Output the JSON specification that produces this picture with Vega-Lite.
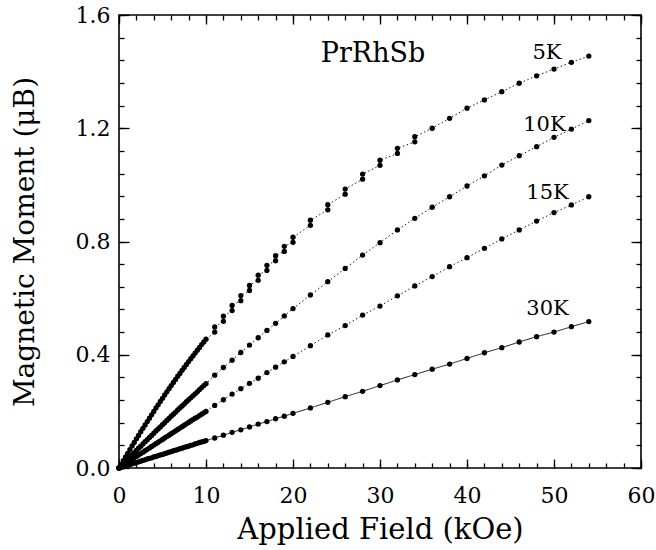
{
"$schema":"https://vega.github.io/schema/vega-lite/v6.json",
"width":522,"height":453,
"autosize":{"type":"none"},
"padding":{"left":119,"top":15,"right":15,"bottom":82},
"background":"white",
"config":{"view":{"stroke":"black","strokeWidth":1.6},"font":"DejaVu Serif",
 "axis":{"grid":false,"domain":false,"tickColor":"black","tickWidth":1.3,"labelColor":"black","labelFont":"DejaVu Serif","labelFontSize":22,"labelFlush":false,"labelOverlap":false,"titleColor":"black","titleFont":"DejaVu Serif","titleFontWeight":"normal"}},
"resolve":{"axis":{"x":"independent","y":"independent"}},
"datasets":{
"mag":[
{"T":"5K","H":0,"M":0},{"T":"5K","H":0.25,"M":0.013},{"T":"5K","H":0.5,"M":0.026},{"T":"5K","H":0.75,"M":0.039},{"T":"5K","H":1,"M":0.052},{"T":"5K","H":1.25,"M":0.065},{"T":"5K","H":1.5,"M":0.078},{"T":"5K","H":1.75,"M":0.09},{"T":"5K","H":2,"M":0.103},{"T":"5K","H":2.25,"M":0.115},{"T":"5K","H":2.5,"M":0.128},{"T":"5K","H":2.75,"M":0.14},{"T":"5K","H":3,"M":0.152},{"T":"5K","H":3.25,"M":0.164},{"T":"5K","H":3.5,"M":0.176},{"T":"5K","H":3.75,"M":0.188},{"T":"5K","H":4,"M":0.2},{"T":"5K","H":4.25,"M":0.212},{"T":"5K","H":4.5,"M":0.223},{"T":"5K","H":4.75,"M":0.235},{"T":"5K","H":5,"M":0.246},{"T":"5K","H":5.25,"M":0.258},{"T":"5K","H":5.5,"M":0.269},{"T":"5K","H":5.75,"M":0.28},{"T":"5K","H":6,"M":0.291},{"T":"5K","H":6.25,"M":0.302},{"T":"5K","H":6.5,"M":0.313},{"T":"5K","H":6.75,"M":0.324},{"T":"5K","H":7,"M":0.334},{"T":"5K","H":7.25,"M":0.345},{"T":"5K","H":7.5,"M":0.355},{"T":"5K","H":7.75,"M":0.366},{"T":"5K","H":8,"M":0.376},{"T":"5K","H":8.25,"M":0.386},{"T":"5K","H":8.5,"M":0.396},{"T":"5K","H":8.75,"M":0.406},{"T":"5K","H":9,"M":0.416},{"T":"5K","H":9.25,"M":0.426},{"T":"5K","H":9.5,"M":0.436},{"T":"5K","H":9.75,"M":0.445},{"T":"5K","H":10,"M":0.455},
{"T":"5K","H":11,"M":0.48},{"T":"5K","H":11,"M":0.498},{"T":"5K","H":12,"M":0.518},{"T":"5K","H":12,"M":0.536},{"T":"5K","H":13,"M":0.556},{"T":"5K","H":13,"M":0.574},{"T":"5K","H":14,"M":0.591},{"T":"5K","H":14,"M":0.609},{"T":"5K","H":15,"M":0.627},{"T":"5K","H":15,"M":0.645},{"T":"5K","H":16,"M":0.663},{"T":"5K","H":16,"M":0.681},{"T":"5K","H":17,"M":0.698},{"T":"5K","H":17,"M":0.716},{"T":"5K","H":18,"M":0.732},{"T":"5K","H":18,"M":0.75},{"T":"5K","H":19,"M":0.765},{"T":"5K","H":19,"M":0.783},{"T":"5K","H":20,"M":0.797},{"T":"5K","H":20,"M":0.815},{"T":"5K","H":22,"M":0.857},{"T":"5K","H":22,"M":0.875},{"T":"5K","H":24,"M":0.912},{"T":"5K","H":24,"M":0.93},{"T":"5K","H":26,"M":0.967},{"T":"5K","H":26,"M":0.985},{"T":"5K","H":28,"M":1.02},{"T":"5K","H":28,"M":1.038},{"T":"5K","H":30,"M":1.069},{"T":"5K","H":30,"M":1.087},{"T":"5K","H":32,"M":1.111},{"T":"5K","H":32,"M":1.129},{"T":"5K","H":34,"M":1.152},{"T":"5K","H":34,"M":1.17},{"T":"5K","H":36,"M":1.2},{"T":"5K","H":38,"M":1.235},{"T":"5K","H":40,"M":1.271},{"T":"5K","H":42,"M":1.3},{"T":"5K","H":44,"M":1.329},{"T":"5K","H":46,"M":1.359},{"T":"5K","H":48,"M":1.385},{"T":"5K","H":50,"M":1.409},{"T":"5K","H":52,"M":1.433},{"T":"5K","H":54,"M":1.455},
{"T":"10K","H":0,"M":0},{"T":"10K","H":0.25,"M":0.008},{"T":"10K","H":0.5,"M":0.016},{"T":"10K","H":0.75,"M":0.023},{"T":"10K","H":1,"M":0.031},{"T":"10K","H":1.25,"M":0.039},{"T":"10K","H":1.5,"M":0.047},{"T":"10K","H":1.75,"M":0.054},{"T":"10K","H":2,"M":0.062},{"T":"10K","H":2.25,"M":0.07},{"T":"10K","H":2.5,"M":0.077},{"T":"10K","H":2.75,"M":0.085},{"T":"10K","H":3,"M":0.093},{"T":"10K","H":3.25,"M":0.1},{"T":"10K","H":3.5,"M":0.108},{"T":"10K","H":3.75,"M":0.115},{"T":"10K","H":4,"M":0.123},{"T":"10K","H":4.25,"M":0.131},{"T":"10K","H":4.5,"M":0.138},{"T":"10K","H":4.75,"M":0.145},{"T":"10K","H":5,"M":0.153},{"T":"10K","H":5.25,"M":0.16},{"T":"10K","H":5.5,"M":0.168},{"T":"10K","H":5.75,"M":0.175},{"T":"10K","H":6,"M":0.183},{"T":"10K","H":6.25,"M":0.19},{"T":"10K","H":6.5,"M":0.197},{"T":"10K","H":6.75,"M":0.205},{"T":"10K","H":7,"M":0.212},{"T":"10K","H":7.25,"M":0.219},{"T":"10K","H":7.5,"M":0.226},{"T":"10K","H":7.75,"M":0.234},{"T":"10K","H":8,"M":0.241},{"T":"10K","H":8.25,"M":0.248},{"T":"10K","H":8.5,"M":0.255},{"T":"10K","H":8.75,"M":0.262},{"T":"10K","H":9,"M":0.269},{"T":"10K","H":9.25,"M":0.277},{"T":"10K","H":9.5,"M":0.284},{"T":"10K","H":9.75,"M":0.291},{"T":"10K","H":10,"M":0.298},
{"T":"10K","H":11,"M":0.328},{"T":"10K","H":12,"M":0.355},{"T":"10K","H":13,"M":0.381},{"T":"10K","H":14,"M":0.408},{"T":"10K","H":15,"M":0.434},{"T":"10K","H":16,"M":0.46},{"T":"10K","H":17,"M":0.486},{"T":"10K","H":18,"M":0.511},{"T":"10K","H":19,"M":0.537},{"T":"10K","H":20,"M":0.563},{"T":"10K","H":22,"M":0.611},{"T":"10K","H":24,"M":0.658},{"T":"10K","H":26,"M":0.705},{"T":"10K","H":28,"M":0.752},{"T":"10K","H":30,"M":0.796},{"T":"10K","H":32,"M":0.841},{"T":"10K","H":34,"M":0.882},{"T":"10K","H":36,"M":0.921},{"T":"10K","H":38,"M":0.958},{"T":"10K","H":40,"M":0.996},{"T":"10K","H":42,"M":1.032},{"T":"10K","H":44,"M":1.07},{"T":"10K","H":46,"M":1.103},{"T":"10K","H":48,"M":1.135},{"T":"10K","H":50,"M":1.168},{"T":"10K","H":52,"M":1.197},{"T":"10K","H":54,"M":1.227},
{"T":"15K","H":0,"M":0},{"T":"15K","H":0.25,"M":0.005},{"T":"15K","H":0.5,"M":0.01},{"T":"15K","H":0.75,"M":0.015},{"T":"15K","H":1,"M":0.02},{"T":"15K","H":1.25,"M":0.026},{"T":"15K","H":1.5,"M":0.031},{"T":"15K","H":1.75,"M":0.036},{"T":"15K","H":2,"M":0.041},{"T":"15K","H":2.25,"M":0.046},{"T":"15K","H":2.5,"M":0.051},{"T":"15K","H":2.75,"M":0.056},{"T":"15K","H":3,"M":0.061},{"T":"15K","H":3.25,"M":0.066},{"T":"15K","H":3.5,"M":0.071},{"T":"15K","H":3.75,"M":0.076},{"T":"15K","H":4,"M":0.081},{"T":"15K","H":4.25,"M":0.086},{"T":"15K","H":4.5,"M":0.091},{"T":"15K","H":4.75,"M":0.096},{"T":"15K","H":5,"M":0.101},{"T":"15K","H":5.25,"M":0.106},{"T":"15K","H":5.5,"M":0.111},{"T":"15K","H":5.75,"M":0.116},{"T":"15K","H":6,"M":0.121},{"T":"15K","H":6.25,"M":0.126},{"T":"15K","H":6.5,"M":0.131},{"T":"15K","H":6.75,"M":0.136},{"T":"15K","H":7,"M":0.141},{"T":"15K","H":7.25,"M":0.146},{"T":"15K","H":7.5,"M":0.151},{"T":"15K","H":7.75,"M":0.156},{"T":"15K","H":8,"M":0.161},{"T":"15K","H":8.25,"M":0.166},{"T":"15K","H":8.5,"M":0.171},{"T":"15K","H":8.75,"M":0.176},{"T":"15K","H":9,"M":0.18},{"T":"15K","H":9.25,"M":0.185},{"T":"15K","H":9.5,"M":0.19},{"T":"15K","H":9.75,"M":0.195},{"T":"15K","H":10,"M":0.2},
{"T":"15K","H":11,"M":0.221},{"T":"15K","H":12,"M":0.241},{"T":"15K","H":13,"M":0.261},{"T":"15K","H":14,"M":0.28},{"T":"15K","H":15,"M":0.299},{"T":"15K","H":16,"M":0.317},{"T":"15K","H":17,"M":0.337},{"T":"15K","H":18,"M":0.356},{"T":"15K","H":19,"M":0.375},{"T":"15K","H":20,"M":0.394},{"T":"15K","H":22,"M":0.432},{"T":"15K","H":24,"M":0.47},{"T":"15K","H":26,"M":0.503},{"T":"15K","H":28,"M":0.54},{"T":"15K","H":30,"M":0.572},{"T":"15K","H":32,"M":0.608},{"T":"15K","H":34,"M":0.643},{"T":"15K","H":36,"M":0.676},{"T":"15K","H":38,"M":0.711},{"T":"15K","H":40,"M":0.743},{"T":"15K","H":42,"M":0.776},{"T":"15K","H":44,"M":0.809},{"T":"15K","H":46,"M":0.841},{"T":"15K","H":48,"M":0.872},{"T":"15K","H":50,"M":0.902},{"T":"15K","H":52,"M":0.929},{"T":"15K","H":54,"M":0.958},
{"T":"30K","H":0,"M":0},{"T":"30K","H":0.25,"M":0.002},{"T":"30K","H":0.5,"M":0.005},{"T":"30K","H":0.75,"M":0.007},{"T":"30K","H":1,"M":0.01},{"T":"30K","H":1.25,"M":0.012},{"T":"30K","H":1.5,"M":0.015},{"T":"30K","H":1.75,"M":0.017},{"T":"30K","H":2,"M":0.019},{"T":"30K","H":2.25,"M":0.022},{"T":"30K","H":2.5,"M":0.024},{"T":"30K","H":2.75,"M":0.027},{"T":"30K","H":3,"M":0.029},{"T":"30K","H":3.25,"M":0.032},{"T":"30K","H":3.5,"M":0.034},{"T":"30K","H":3.75,"M":0.036},{"T":"30K","H":4,"M":0.039},{"T":"30K","H":4.25,"M":0.041},{"T":"30K","H":4.5,"M":0.044},{"T":"30K","H":4.75,"M":0.046},{"T":"30K","H":5,"M":0.048},{"T":"30K","H":5.25,"M":0.051},{"T":"30K","H":5.5,"M":0.053},{"T":"30K","H":5.75,"M":0.056},{"T":"30K","H":6,"M":0.058},{"T":"30K","H":6.25,"M":0.061},{"T":"30K","H":6.5,"M":0.063},{"T":"30K","H":6.75,"M":0.065},{"T":"30K","H":7,"M":0.068},{"T":"30K","H":7.25,"M":0.07},{"T":"30K","H":7.5,"M":0.073},{"T":"30K","H":7.75,"M":0.075},{"T":"30K","H":8,"M":0.077},{"T":"30K","H":8.25,"M":0.08},{"T":"30K","H":8.5,"M":0.082},{"T":"30K","H":8.75,"M":0.085},{"T":"30K","H":9,"M":0.087},{"T":"30K","H":9.25,"M":0.09},{"T":"30K","H":9.5,"M":0.092},{"T":"30K","H":9.75,"M":0.094},{"T":"30K","H":10,"M":0.097},
{"T":"30K","H":11,"M":0.106},{"T":"30K","H":12,"M":0.116},{"T":"30K","H":13,"M":0.126},{"T":"30K","H":14,"M":0.135},{"T":"30K","H":15,"M":0.145},{"T":"30K","H":16,"M":0.155},{"T":"30K","H":17,"M":0.164},{"T":"30K","H":18,"M":0.174},{"T":"30K","H":19,"M":0.183},{"T":"30K","H":20,"M":0.193},{"T":"30K","H":22,"M":0.212},{"T":"30K","H":24,"M":0.232},{"T":"30K","H":26,"M":0.252},{"T":"30K","H":28,"M":0.271},{"T":"30K","H":30,"M":0.291},{"T":"30K","H":32,"M":0.311},{"T":"30K","H":34,"M":0.33},{"T":"30K","H":36,"M":0.349},{"T":"30K","H":38,"M":0.367},{"T":"30K","H":40,"M":0.387},{"T":"30K","H":42,"M":0.407},{"T":"30K","H":44,"M":0.425},{"T":"30K","H":46,"M":0.445},{"T":"30K","H":48,"M":0.464},{"T":"30K","H":50,"M":0.48},{"T":"30K","H":52,"M":0.499},{"T":"30K","H":54,"M":0.517}
],
"lab":[{"t":"PrRhSb","H":29.2,"M":1.462},{"t":"5K","H":49.2,"M":1.466},{"t":"10K","H":48.9,"M":1.21},{"t":"15K","H":49.25,"M":0.97},{"t":"30K","H":49.25,"M":0.562}]
},
"layer":[
{"data":{"name":"mag"},
 "mark":{"type":"line","color":"black","strokeWidth":0.9},
 "encoding":{
  "x":{"field":"H","type":"quantitative","scale":{"domain":[0,60],"nice":false,"zero":false},
   "axis":{"orient":"bottom","values":[0,10,20,30,40,50,60],"format":"d","tickSize":-9,"labelPadding":26,"title":"Applied Field (kOe)","titleFontSize":29,"titleX":261,"titleY":61,"titleBaseline":"middle","titleAlign":"center","titleAnchor":null}},
  "y":{"field":"M","type":"quantitative","scale":{"domain":[0,1.6],"nice":false,"zero":false},
   "axis":{"orient":"left","values":[0,0.4,0.8,1.2,1.6],"format":".1f","tickSize":-10,"labelPadding":19,"title":"Magnetic Moment (μB)","titleFontSize":28,"titleX":-94,"titleY":226.5,"titleAngle":-90,"titleBaseline":"middle","titleAlign":"center","titleAnchor":null}},
  "detail":{"field":"T"},
  "strokeDash":{"field":"T","type":"nominal","scale":{"domain":["5K","10K","15K","30K"],"range":[[1.5,2.5],[1.5,2.5],[1.5,2.5],[1,0]]},"legend":null}
 }},
{"data":{"name":"mag"},
 "mark":{"type":"circle","color":"black","size":28,"opacity":1},
 "encoding":{
  "x":{"field":"H","type":"quantitative","scale":{"domain":[0,60],"nice":false,"zero":false},
   "axis":{"orient":"bottom","values":[0,2,4,6,8,10,12,14,16,18,20,22,24,26,28,30,32,34,36,38,40,42,44,46,48,50,52,54,56,58,60],"tickSize":-5,"labels":false,"title":null}},
  "y":{"field":"M","type":"quantitative","scale":{"domain":[0,1.6],"nice":false,"zero":false},
   "axis":{"orient":"left","values":[0,0.08,0.16,0.24,0.32,0.4,0.48,0.56,0.64,0.72,0.8,0.88,0.96,1.04,1.12,1.2,1.28,1.36,1.44,1.52,1.6],"tickSize":-5,"labels":false,"title":null}}
 }},
{"data":{"name":"mag"},
 "mark":{"type":"circle","opacity":0},
 "encoding":{
  "x":{"field":"H","type":"quantitative","scale":{"domain":[0,60],"nice":false,"zero":false},
   "axis":{"orient":"top","values":[0,10,20,30,40,50,60],"tickSize":-9,"labels":false,"title":null}},
  "y":{"field":"M","type":"quantitative","scale":{"domain":[0,1.6],"nice":false,"zero":false},
   "axis":{"orient":"right","values":[0,0.4,0.8,1.2,1.6],"tickSize":-10,"labels":false,"title":null}}
 }},
{"data":{"name":"mag"},
 "mark":{"type":"circle","opacity":0},
 "encoding":{
  "x":{"field":"H","type":"quantitative","scale":{"domain":[0,60],"nice":false,"zero":false},
   "axis":{"orient":"top","values":[0,2,4,6,8,10,12,14,16,18,20,22,24,26,28,30,32,34,36,38,40,42,44,46,48,50,52,54,56,58,60],"tickSize":-5,"labels":false,"title":null}},
  "y":{"field":"M","type":"quantitative","scale":{"domain":[0,1.6],"nice":false,"zero":false},
   "axis":{"orient":"right","values":[0,0.08,0.16,0.24,0.32,0.4,0.48,0.56,0.64,0.72,0.8,0.88,0.96,1.04,1.12,1.2,1.28,1.36,1.44,1.52,1.6],"tickSize":-5,"labels":false,"title":null}}
 }},
{"data":{"name":"lab"},
 "mark":{"type":"text","color":"black","font":"DejaVu Serif","baseline":"middle","align":"center"},
 "encoding":{
  "x":{"field":"H","type":"quantitative","scale":{"domain":[0,60],"nice":false,"zero":false},"axis":null},
  "y":{"field":"M","type":"quantitative","scale":{"domain":[0,1.6],"nice":false,"zero":false},"axis":null},
  "text":{"field":"t"},
  "size":{"condition":{"test":"datum.t == 'PrRhSb'","value":27},"value":21}
 }}
]
}
